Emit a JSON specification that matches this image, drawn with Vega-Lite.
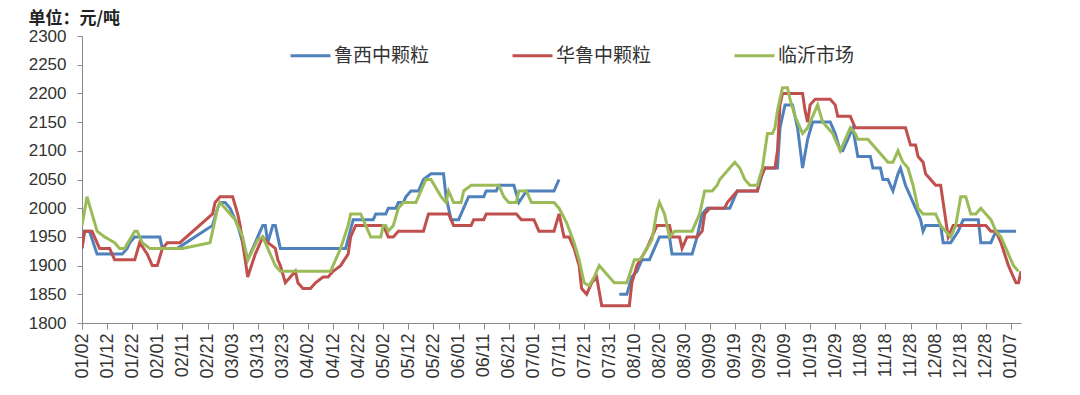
{
  "$schema": "https://vega.github.io/schema/vega-lite/v6.json",
  "autosize": "none",
  "width": 939,
  "height": 287,
  "padding": {"left": 82, "top": 36, "right": 59, "bottom": 72},
  "background": "white",
  "config": {"view": {"stroke": null}},
  "data": {"values": [
    {"s":"鲁西中颗粒","d":"2019-01-02","v":1930},{"s":"鲁西中颗粒","d":"2019-01-03","v":1960},{"s":"鲁西中颗粒","d":"2019-01-05","v":1960},{"s":"鲁西中颗粒","d":"2019-01-08","v":1920},{"s":"鲁西中颗粒","d":"2019-01-18","v":1920},{"s":"鲁西中颗粒","d":"2019-01-20","v":1930},{"s":"鲁西中颗粒","d":"2019-01-21","v":1940},{"s":"鲁西中颗粒","d":"2019-01-23","v":1950},{"s":"鲁西中颗粒","d":"2019-02-02","v":1950},{"s":"鲁西中颗粒","d":"2019-02-03","v":1930},{"s":"鲁西中颗粒","d":"2019-02-09","v":1930},{"s":"鲁西中颗粒","d":"2019-02-23","v":1970},{"s":"鲁西中颗粒","d":"2019-02-25","v":2000},{"s":"鲁西中颗粒","d":"2019-02-26","v":2010},{"s":"鲁西中颗粒","d":"2019-02-28","v":2010},{"s":"鲁西中颗粒","d":"2019-03-02","v":2000},{"s":"鲁西中颗粒","d":"2019-03-05","v":1970},{"s":"鲁西中颗粒","d":"2019-03-09","v":1910},{"s":"鲁西中颗粒","d":"2019-03-13","v":1950},{"s":"鲁西中颗粒","d":"2019-03-15","v":1970},{"s":"鲁西中颗粒","d":"2019-03-16","v":1970},{"s":"鲁西中颗粒","d":"2019-03-17","v":1940},{"s":"鲁西中颗粒","d":"2019-03-19","v":1970},{"s":"鲁西中颗粒","d":"2019-03-20","v":1970},{"s":"鲁西中颗粒","d":"2019-03-22","v":1930},{"s":"鲁西中颗粒","d":"2019-04-17","v":1930},{"s":"鲁西中颗粒","d":"2019-04-20","v":1980},{"s":"鲁西中颗粒","d":"2019-04-28","v":1980},{"s":"鲁西中颗粒","d":"2019-04-29","v":1990},{"s":"鲁西中颗粒","d":"2019-05-03","v":1990},{"s":"鲁西中颗粒","d":"2019-05-04","v":2000},{"s":"鲁西中颗粒","d":"2019-05-07","v":2000},{"s":"鲁西中颗粒","d":"2019-05-08","v":2010},{"s":"鲁西中颗粒","d":"2019-05-10","v":2010},{"s":"鲁西中颗粒","d":"2019-05-11","v":2020},{"s":"鲁西中颗粒","d":"2019-05-13","v":2030},{"s":"鲁西中颗粒","d":"2019-05-16","v":2030},{"s":"鲁西中颗粒","d":"2019-05-18","v":2050},{"s":"鲁西中颗粒","d":"2019-05-21","v":2060},{"s":"鲁西中颗粒","d":"2019-05-26","v":2060},{"s":"鲁西中颗粒","d":"2019-05-27","v":2020},{"s":"鲁西中颗粒","d":"2019-05-29","v":1980},{"s":"鲁西中颗粒","d":"2019-06-01","v":1980},{"s":"鲁西中颗粒","d":"2019-06-03","v":2000},{"s":"鲁西中颗粒","d":"2019-06-05","v":2020},{"s":"鲁西中颗粒","d":"2019-06-11","v":2020},{"s":"鲁西中颗粒","d":"2019-06-12","v":2030},{"s":"鲁西中颗粒","d":"2019-06-16","v":2030},{"s":"鲁西中颗粒","d":"2019-06-17","v":2040},{"s":"鲁西中颗粒","d":"2019-06-23","v":2040},{"s":"鲁西中颗粒","d":"2019-06-25","v":2010},{"s":"鲁西中颗粒","d":"2019-06-28","v":2030},{"s":"鲁西中颗粒","d":"2019-07-09","v":2030},{"s":"鲁西中颗粒","d":"2019-07-11","v":2050},{"s":"鲁西中颗粒","d":"2019-07-21","v":null},{"s":"鲁西中颗粒","d":"2019-08-04","v":1850},{"s":"鲁西中颗粒","d":"2019-08-07","v":1850},{"s":"鲁西中颗粒","d":"2019-08-09","v":1880},{"s":"鲁西中颗粒","d":"2019-08-11","v":1890},{"s":"鲁西中颗粒","d":"2019-08-13","v":1910},{"s":"鲁西中颗粒","d":"2019-08-16","v":1910},{"s":"鲁西中颗粒","d":"2019-08-18","v":1930},{"s":"鲁西中颗粒","d":"2019-08-20","v":1950},{"s":"鲁西中颗粒","d":"2019-08-24","v":1950},{"s":"鲁西中颗粒","d":"2019-08-25","v":1920},{"s":"鲁西中颗粒","d":"2019-09-02","v":1920},{"s":"鲁西中颗粒","d":"2019-09-04","v":1950},{"s":"鲁西中颗粒","d":"2019-09-06","v":1990},{"s":"鲁西中颗粒","d":"2019-09-08","v":2000},{"s":"鲁西中颗粒","d":"2019-09-17","v":2000},{"s":"鲁西中颗粒","d":"2019-09-19","v":2020},{"s":"鲁西中颗粒","d":"2019-09-20","v":2030},{"s":"鲁西中颗粒","d":"2019-09-28","v":2030},{"s":"鲁西中颗粒","d":"2019-09-30","v":2060},{"s":"鲁西中颗粒","d":"2019-10-01","v":2070},{"s":"鲁西中颗粒","d":"2019-10-06","v":2070},{"s":"鲁西中颗粒","d":"2019-10-07","v":2140},{"s":"鲁西中颗粒","d":"2019-10-09","v":2180},{"s":"鲁西中颗粒","d":"2019-10-12","v":2180},{"s":"鲁西中颗粒","d":"2019-10-14","v":2140},{"s":"鲁西中颗粒","d":"2019-10-16","v":2070},{"s":"鲁西中颗粒","d":"2019-10-18","v":2120},{"s":"鲁西中颗粒","d":"2019-10-20","v":2150},{"s":"鲁西中颗粒","d":"2019-10-27","v":2150},{"s":"鲁西中颗粒","d":"2019-10-29","v":2130},{"s":"鲁西中颗粒","d":"2019-10-31","v":2100},{"s":"鲁西中颗粒","d":"2019-11-01","v":2100},{"s":"鲁西中颗粒","d":"2019-11-03","v":2120},{"s":"鲁西中颗粒","d":"2019-11-05","v":2140},{"s":"鲁西中颗粒","d":"2019-11-07","v":2090},{"s":"鲁西中颗粒","d":"2019-11-12","v":2090},{"s":"鲁西中颗粒","d":"2019-11-13","v":2070},{"s":"鲁西中颗粒","d":"2019-11-16","v":2070},{"s":"鲁西中颗粒","d":"2019-11-17","v":2050},{"s":"鲁西中颗粒","d":"2019-11-19","v":2050},{"s":"鲁西中颗粒","d":"2019-11-21","v":2030},{"s":"鲁西中颗粒","d":"2019-11-23","v":2060},{"s":"鲁西中颗粒","d":"2019-11-24","v":2070},{"s":"鲁西中颗粒","d":"2019-11-26","v":2040},{"s":"鲁西中颗粒","d":"2019-11-28","v":2020},{"s":"鲁西中颗粒","d":"2019-11-30","v":2000},{"s":"鲁西中颗粒","d":"2019-12-02","v":1980},{"s":"鲁西中颗粒","d":"2019-12-03","v":1960},{"s":"鲁西中颗粒","d":"2019-12-04","v":1970},{"s":"鲁西中颗粒","d":"2019-12-10","v":1970},{"s":"鲁西中颗粒","d":"2019-12-11","v":1940},{"s":"鲁西中颗粒","d":"2019-12-14","v":1940},{"s":"鲁西中颗粒","d":"2019-12-17","v":1960},{"s":"鲁西中颗粒","d":"2019-12-19","v":1980},{"s":"鲁西中颗粒","d":"2019-12-25","v":1980},{"s":"鲁西中颗粒","d":"2019-12-26","v":1940},{"s":"鲁西中颗粒","d":"2019-12-30","v":1940},{"s":"鲁西中颗粒","d":"2019-12-31","v":1950},{"s":"鲁西中颗粒","d":"2020-01-01","v":1960},{"s":"鲁西中颗粒","d":"2020-01-09","v":1960},

    {"s":"华鲁中颗粒","d":"2019-01-02","v":1930},{"s":"华鲁中颗粒","d":"2019-01-03","v":1960},{"s":"华鲁中颗粒","d":"2019-01-06","v":1960},{"s":"华鲁中颗粒","d":"2019-01-09","v":1930},{"s":"华鲁中颗粒","d":"2019-01-13","v":1930},{"s":"华鲁中颗粒","d":"2019-01-15","v":1910},{"s":"华鲁中颗粒","d":"2019-01-23","v":1910},{"s":"华鲁中颗粒","d":"2019-01-25","v":1940},{"s":"华鲁中颗粒","d":"2019-01-28","v":1920},{"s":"华鲁中颗粒","d":"2019-01-30","v":1900},{"s":"华鲁中颗粒","d":"2019-02-01","v":1900},{"s":"华鲁中颗粒","d":"2019-02-03","v":1930},{"s":"华鲁中颗粒","d":"2019-02-05","v":1940},{"s":"华鲁中颗粒","d":"2019-02-10","v":1940},{"s":"华鲁中颗粒","d":"2019-02-23","v":1990},{"s":"华鲁中颗粒","d":"2019-02-24","v":2010},{"s":"华鲁中颗粒","d":"2019-02-26","v":2020},{"s":"华鲁中颗粒","d":"2019-03-03","v":2020},{"s":"华鲁中颗粒","d":"2019-03-05","v":1990},{"s":"华鲁中颗粒","d":"2019-03-06","v":1970},{"s":"华鲁中颗粒","d":"2019-03-09","v":1880},{"s":"华鲁中颗粒","d":"2019-03-12","v":1920},{"s":"华鲁中颗粒","d":"2019-03-15","v":1950},{"s":"华鲁中颗粒","d":"2019-03-17","v":1940},{"s":"华鲁中颗粒","d":"2019-03-20","v":1930},{"s":"华鲁中颗粒","d":"2019-03-21","v":1910},{"s":"华鲁中颗粒","d":"2019-03-22","v":1900},{"s":"华鲁中颗粒","d":"2019-03-24","v":1870},{"s":"华鲁中颗粒","d":"2019-03-26","v":1880},{"s":"华鲁中颗粒","d":"2019-03-28","v":1890},{"s":"华鲁中颗粒","d":"2019-03-29","v":1870},{"s":"华鲁中颗粒","d":"2019-03-31","v":1860},{"s":"华鲁中颗粒","d":"2019-04-03","v":1860},{"s":"华鲁中颗粒","d":"2019-04-05","v":1870},{"s":"华鲁中颗粒","d":"2019-04-08","v":1880},{"s":"华鲁中颗粒","d":"2019-04-10","v":1880},{"s":"华鲁中颗粒","d":"2019-04-12","v":1890},{"s":"华鲁中颗粒","d":"2019-04-15","v":1900},{"s":"华鲁中颗粒","d":"2019-04-18","v":1920},{"s":"华鲁中颗粒","d":"2019-04-19","v":1950},{"s":"华鲁中颗粒","d":"2019-04-21","v":1970},{"s":"华鲁中颗粒","d":"2019-05-02","v":1970},{"s":"华鲁中颗粒","d":"2019-05-04","v":1950},{"s":"华鲁中颗粒","d":"2019-05-06","v":1950},{"s":"华鲁中颗粒","d":"2019-05-08","v":1960},{"s":"华鲁中颗粒","d":"2019-05-18","v":1960},{"s":"华鲁中颗粒","d":"2019-05-20","v":1990},{"s":"华鲁中颗粒","d":"2019-05-28","v":1990},{"s":"华鲁中颗粒","d":"2019-05-30","v":1970},{"s":"华鲁中颗粒","d":"2019-06-06","v":1970},{"s":"华鲁中颗粒","d":"2019-06-07","v":1980},{"s":"华鲁中颗粒","d":"2019-06-11","v":1980},{"s":"华鲁中颗粒","d":"2019-06-12","v":1990},{"s":"华鲁中颗粒","d":"2019-06-24","v":1990},{"s":"华鲁中颗粒","d":"2019-06-26","v":1980},{"s":"华鲁中颗粒","d":"2019-07-01","v":1980},{"s":"华鲁中颗粒","d":"2019-07-03","v":1960},{"s":"华鲁中颗粒","d":"2019-07-09","v":1960},{"s":"华鲁中颗粒","d":"2019-07-11","v":1990},{"s":"华鲁中颗粒","d":"2019-07-13","v":1950},{"s":"华鲁中颗粒","d":"2019-07-15","v":1950},{"s":"华鲁中颗粒","d":"2019-07-17","v":1930},{"s":"华鲁中颗粒","d":"2019-07-19","v":1900},{"s":"华鲁中颗粒","d":"2019-07-20","v":1860},{"s":"华鲁中颗粒","d":"2019-07-22","v":1850},{"s":"华鲁中颗粒","d":"2019-07-24","v":1870},{"s":"华鲁中颗粒","d":"2019-07-26","v":1880},{"s":"华鲁中颗粒","d":"2019-07-28","v":1830},{"s":"华鲁中颗粒","d":"2019-08-08","v":1830},{"s":"华鲁中颗粒","d":"2019-08-09","v":1870},{"s":"华鲁中颗粒","d":"2019-08-11","v":1900},{"s":"华鲁中颗粒","d":"2019-08-13","v":1915},{"s":"华鲁中颗粒","d":"2019-08-15","v":1930},{"s":"华鲁中颗粒","d":"2019-08-17","v":1950},{"s":"华鲁中颗粒","d":"2019-08-19","v":1970},{"s":"华鲁中颗粒","d":"2019-08-24","v":1970},{"s":"华鲁中颗粒","d":"2019-08-25","v":1950},{"s":"华鲁中颗粒","d":"2019-08-28","v":1950},{"s":"华鲁中颗粒","d":"2019-08-29","v":1930},{"s":"华鲁中颗粒","d":"2019-08-31","v":1950},{"s":"华鲁中颗粒","d":"2019-09-04","v":1950},{"s":"华鲁中颗粒","d":"2019-09-06","v":1960},{"s":"华鲁中颗粒","d":"2019-09-07","v":1990},{"s":"华鲁中颗粒","d":"2019-09-09","v":2000},{"s":"华鲁中颗粒","d":"2019-09-15","v":2000},{"s":"华鲁中颗粒","d":"2019-09-16","v":2010},{"s":"华鲁中颗粒","d":"2019-09-18","v":2020},{"s":"华鲁中颗粒","d":"2019-09-20","v":2030},{"s":"华鲁中颗粒","d":"2019-09-28","v":2030},{"s":"华鲁中颗粒","d":"2019-09-29","v":2050},{"s":"华鲁中颗粒","d":"2019-10-01","v":2070},{"s":"华鲁中颗粒","d":"2019-10-05","v":2070},{"s":"华鲁中颗粒","d":"2019-10-06","v":2100},{"s":"华鲁中颗粒","d":"2019-10-07","v":2180},{"s":"华鲁中颗粒","d":"2019-10-08","v":2200},{"s":"华鲁中颗粒","d":"2019-10-16","v":2200},{"s":"华鲁中颗粒","d":"2019-10-17","v":2170},{"s":"华鲁中颗粒","d":"2019-10-18","v":2150},{"s":"华鲁中颗粒","d":"2019-10-19","v":2180},{"s":"华鲁中颗粒","d":"2019-10-21","v":2190},{"s":"华鲁中颗粒","d":"2019-10-27","v":2190},{"s":"华鲁中颗粒","d":"2019-10-29","v":2180},{"s":"华鲁中颗粒","d":"2019-10-30","v":2160},{"s":"华鲁中颗粒","d":"2019-11-04","v":2160},{"s":"华鲁中颗粒","d":"2019-11-06","v":2140},{"s":"华鲁中颗粒","d":"2019-11-26","v":2140},{"s":"华鲁中颗粒","d":"2019-11-28","v":2110},{"s":"华鲁中颗粒","d":"2019-11-30","v":2110},{"s":"华鲁中颗粒","d":"2019-12-01","v":2090},{"s":"华鲁中颗粒","d":"2019-12-03","v":2080},{"s":"华鲁中颗粒","d":"2019-12-04","v":2060},{"s":"华鲁中颗粒","d":"2019-12-06","v":2050},{"s":"华鲁中颗粒","d":"2019-12-08","v":2040},{"s":"华鲁中颗粒","d":"2019-12-10","v":2040},{"s":"华鲁中颗粒","d":"2019-12-13","v":1950},{"s":"华鲁中颗粒","d":"2019-12-15","v":1970},{"s":"华鲁中颗粒","d":"2019-12-28","v":1970},{"s":"华鲁中颗粒","d":"2019-12-30","v":1960},{"s":"华鲁中颗粒","d":"2020-01-01","v":1960},{"s":"华鲁中颗粒","d":"2020-01-03","v":1940},{"s":"华鲁中颗粒","d":"2020-01-06","v":1900},{"s":"华鲁中颗粒","d":"2020-01-08","v":1880},{"s":"华鲁中颗粒","d":"2020-01-09","v":1870},{"s":"华鲁中颗粒","d":"2020-01-10","v":1870},{"s":"华鲁中颗粒","d":"2020-01-11","v":1890},

    {"s":"临沂市场","d":"2019-01-02","v":1970},{"s":"临沂市场","d":"2019-01-04","v":2020},{"s":"临沂市场","d":"2019-01-06","v":1990},{"s":"临沂市场","d":"2019-01-08","v":1960},{"s":"临沂市场","d":"2019-01-11","v":1950},{"s":"临沂市场","d":"2019-01-13","v":1945},{"s":"临沂市场","d":"2019-01-15","v":1940},{"s":"临沂市场","d":"2019-01-17","v":1930},{"s":"临沂市场","d":"2019-01-19","v":1930},{"s":"临沂市场","d":"2019-01-21","v":1945},{"s":"临沂市场","d":"2019-01-23","v":1960},{"s":"临沂市场","d":"2019-01-24","v":1960},{"s":"临沂市场","d":"2019-01-26","v":1940},{"s":"临沂市场","d":"2019-01-29","v":1930},{"s":"临沂市场","d":"2019-02-11","v":1930},{"s":"临沂市场","d":"2019-02-22","v":1940},{"s":"临沂市场","d":"2019-02-23","v":1960},{"s":"临沂市场","d":"2019-02-25","v":2000},{"s":"临沂市场","d":"2019-02-26","v":2010},{"s":"临沂市场","d":"2019-02-28","v":2000},{"s":"临沂市场","d":"2019-03-02","v":1990},{"s":"临沂市场","d":"2019-03-04","v":1980},{"s":"临沂市场","d":"2019-03-05","v":1970},{"s":"临沂市场","d":"2019-03-07","v":1950},{"s":"临沂市场","d":"2019-03-09","v":1910},{"s":"临沂市场","d":"2019-03-13","v":1945},{"s":"临沂市场","d":"2019-03-15","v":1950},{"s":"临沂市场","d":"2019-03-17","v":1930},{"s":"临沂市场","d":"2019-03-18","v":1920},{"s":"临沂市场","d":"2019-03-20","v":1900},{"s":"临沂市场","d":"2019-03-22","v":1890},{"s":"临沂市场","d":"2019-04-11","v":1890},{"s":"临沂市场","d":"2019-04-13","v":1910},{"s":"临沂市场","d":"2019-04-15","v":1930},{"s":"临沂市场","d":"2019-04-18","v":1970},{"s":"临沂市场","d":"2019-04-19","v":1990},{"s":"临沂市场","d":"2019-04-23","v":1990},{"s":"临沂市场","d":"2019-04-25","v":1970},{"s":"临沂市场","d":"2019-04-27","v":1950},{"s":"临沂市场","d":"2019-05-01","v":1950},{"s":"临沂市场","d":"2019-05-02","v":1970},{"s":"临沂市场","d":"2019-05-03","v":1970},{"s":"临沂市场","d":"2019-05-04","v":1960},{"s":"临沂市场","d":"2019-05-06","v":1970},{"s":"临沂市场","d":"2019-05-08","v":2000},{"s":"临沂市场","d":"2019-05-10","v":2010},{"s":"临沂市场","d":"2019-05-15","v":2010},{"s":"临沂市场","d":"2019-05-17","v":2030},{"s":"临沂市场","d":"2019-05-19","v":2050},{"s":"临沂市场","d":"2019-05-21","v":2050},{"s":"临沂市场","d":"2019-05-23","v":2035},{"s":"临沂市场","d":"2019-05-25","v":2020},{"s":"临沂市场","d":"2019-05-27","v":2010},{"s":"临沂市场","d":"2019-05-28","v":2030},{"s":"临沂市场","d":"2019-05-30","v":2010},{"s":"临沂市场","d":"2019-06-02","v":2010},{"s":"临沂市场","d":"2019-06-03","v":2030},{"s":"临沂市场","d":"2019-06-06","v":2040},{"s":"临沂市场","d":"2019-06-17","v":2040},{"s":"临沂市场","d":"2019-06-19","v":2020},{"s":"临沂市场","d":"2019-06-21","v":2010},{"s":"临沂市场","d":"2019-06-24","v":2010},{"s":"临沂市场","d":"2019-06-25","v":2030},{"s":"临沂市场","d":"2019-06-28","v":2030},{"s":"临沂市场","d":"2019-06-30","v":2010},{"s":"临沂市场","d":"2019-07-09","v":2010},{"s":"临沂市场","d":"2019-07-11","v":2000},{"s":"临沂市场","d":"2019-07-14","v":1975},{"s":"临沂市场","d":"2019-07-17","v":1940},{"s":"临沂市场","d":"2019-07-19","v":1910},{"s":"临沂市场","d":"2019-07-21","v":1870},{"s":"临沂市场","d":"2019-07-23","v":1865},{"s":"临沂市场","d":"2019-07-25","v":1880},{"s":"临沂市场","d":"2019-07-27","v":1900},{"s":"临沂市场","d":"2019-07-29","v":1890},{"s":"临沂市场","d":"2019-07-31","v":1880},{"s":"临沂市场","d":"2019-08-02","v":1870},{"s":"临沂市场","d":"2019-08-07","v":1870},{"s":"临沂市场","d":"2019-08-10","v":1910},{"s":"临沂市场","d":"2019-08-12","v":1910},{"s":"临沂市场","d":"2019-08-13","v":1915},{"s":"临沂市场","d":"2019-08-15","v":1930},{"s":"临沂市场","d":"2019-08-17","v":1945},{"s":"临沂市场","d":"2019-08-19","v":1995},{"s":"临沂市场","d":"2019-08-20","v":2010},{"s":"临沂市场","d":"2019-08-22","v":1990},{"s":"临沂市场","d":"2019-08-24","v":1950},{"s":"临沂市场","d":"2019-08-26","v":1960},{"s":"临沂市场","d":"2019-09-02","v":1960},{"s":"临沂市场","d":"2019-09-04","v":1980},{"s":"临沂市场","d":"2019-09-05","v":1990},{"s":"临沂市场","d":"2019-09-07","v":2030},{"s":"临沂市场","d":"2019-09-10","v":2030},{"s":"临沂市场","d":"2019-09-12","v":2040},{"s":"临沂市场","d":"2019-09-13","v":2050},{"s":"临沂市场","d":"2019-09-15","v":2060},{"s":"临沂市场","d":"2019-09-17","v":2070},{"s":"临沂市场","d":"2019-09-19","v":2080},{"s":"临沂市场","d":"2019-09-21","v":2070},{"s":"临沂市场","d":"2019-09-23","v":2050},{"s":"临沂市场","d":"2019-09-25","v":2040},{"s":"临沂市场","d":"2019-09-28","v":2040},{"s":"临沂市场","d":"2019-09-30","v":2070},{"s":"临沂市场","d":"2019-10-02","v":2130},{"s":"临沂市场","d":"2019-10-04","v":2130},{"s":"临沂市场","d":"2019-10-05","v":2140},{"s":"临沂市场","d":"2019-10-06","v":2170},{"s":"临沂市场","d":"2019-10-08","v":2210},{"s":"临沂市场","d":"2019-10-10","v":2210},{"s":"临沂市场","d":"2019-10-11","v":2190},{"s":"临沂市场","d":"2019-10-13","v":2160},{"s":"临沂市场","d":"2019-10-16","v":2130},{"s":"临沂市场","d":"2019-10-18","v":2140},{"s":"临沂市场","d":"2019-10-20","v":2160},{"s":"临沂市场","d":"2019-10-22","v":2180},{"s":"临沂市场","d":"2019-10-24","v":2150},{"s":"临沂市场","d":"2019-10-26","v":2140},{"s":"临沂市场","d":"2019-10-28","v":2130},{"s":"临沂市场","d":"2019-10-29","v":2120},{"s":"临沂市场","d":"2019-10-31","v":2100},{"s":"临沂市场","d":"2019-11-02","v":2120},{"s":"临沂市场","d":"2019-11-04","v":2140},{"s":"临沂市场","d":"2019-11-06","v":2130},{"s":"临沂市场","d":"2019-11-07","v":2120},{"s":"临沂市场","d":"2019-11-11","v":2120},{"s":"临沂市场","d":"2019-11-13","v":2110},{"s":"临沂市场","d":"2019-11-15","v":2100},{"s":"临沂市场","d":"2019-11-17","v":2090},{"s":"临沂市场","d":"2019-11-19","v":2080},{"s":"临沂市场","d":"2019-11-21","v":2080},{"s":"临沂市场","d":"2019-11-23","v":2100},{"s":"临沂市场","d":"2019-11-25","v":2080},{"s":"临沂市场","d":"2019-11-27","v":2070},{"s":"临沂市场","d":"2019-11-29","v":2040},{"s":"临沂市场","d":"2019-11-30","v":2020},{"s":"临沂市场","d":"2019-12-01","v":2000},{"s":"临沂市场","d":"2019-12-03","v":1990},{"s":"临沂市场","d":"2019-12-08","v":1990},{"s":"临沂市场","d":"2019-12-10","v":1970},{"s":"临沂市场","d":"2019-12-12","v":1960},{"s":"临沂市场","d":"2019-12-14","v":1950},{"s":"临沂市场","d":"2019-12-16","v":1970},{"s":"临沂市场","d":"2019-12-18","v":2020},{"s":"临沂市场","d":"2019-12-20","v":2020},{"s":"临沂市场","d":"2019-12-22","v":1990},{"s":"临沂市场","d":"2019-12-24","v":1990},{"s":"临沂市场","d":"2019-12-26","v":2000},{"s":"临沂市场","d":"2019-12-28","v":1990},{"s":"临沂市场","d":"2019-12-30","v":1980},{"s":"临沂市场","d":"2020-01-01","v":1960},{"s":"临沂市场","d":"2020-01-03","v":1950},{"s":"临沂市场","d":"2020-01-05","v":1930},{"s":"临沂市场","d":"2020-01-08","v":1900},{"s":"临沂市场","d":"2020-01-10","v":1890}
  ]},
  "mark": {"type": "line", "strokeWidth": 3, "invalid": "break-paths-filter-domains", "clip": true},
  "encoding": {
    "x": {
      "field": "d", "type": "temporal",
      "scale": {"type": "utc", "domain": [{"year": 2019, "month": 1, "date": 2, "utc": true}, {"year": 2020, "month": 1, "date": 11, "utc": true}]},
      "axis": {
        "title": null, "labelExpr": "utcFormat(datum.value, '%m/%d')", "labelAngle": -90,
        "values": [
          {"year":2019,"month":1,"date":2,"utc":true},{"year":2019,"month":1,"date":12,"utc":true},{"year":2019,"month":1,"date":22,"utc":true},{"year":2019,"month":2,"date":1,"utc":true},{"year":2019,"month":2,"date":11,"utc":true},{"year":2019,"month":2,"date":21,"utc":true},{"year":2019,"month":3,"date":3,"utc":true},{"year":2019,"month":3,"date":13,"utc":true},{"year":2019,"month":3,"date":23,"utc":true},{"year":2019,"month":4,"date":2,"utc":true},{"year":2019,"month":4,"date":12,"utc":true},{"year":2019,"month":4,"date":22,"utc":true},{"year":2019,"month":5,"date":2,"utc":true},{"year":2019,"month":5,"date":12,"utc":true},{"year":2019,"month":5,"date":22,"utc":true},{"year":2019,"month":6,"date":1,"utc":true},{"year":2019,"month":6,"date":11,"utc":true},{"year":2019,"month":6,"date":21,"utc":true},{"year":2019,"month":7,"date":1,"utc":true},{"year":2019,"month":7,"date":11,"utc":true},{"year":2019,"month":7,"date":21,"utc":true},{"year":2019,"month":7,"date":31,"utc":true},{"year":2019,"month":8,"date":10,"utc":true},{"year":2019,"month":8,"date":20,"utc":true},{"year":2019,"month":8,"date":30,"utc":true},{"year":2019,"month":9,"date":9,"utc":true},{"year":2019,"month":9,"date":19,"utc":true},{"year":2019,"month":9,"date":29,"utc":true},{"year":2019,"month":10,"date":9,"utc":true},{"year":2019,"month":10,"date":19,"utc":true},{"year":2019,"month":10,"date":29,"utc":true},{"year":2019,"month":11,"date":8,"utc":true},{"year":2019,"month":11,"date":18,"utc":true},{"year":2019,"month":11,"date":28,"utc":true},{"year":2019,"month":12,"date":8,"utc":true},{"year":2019,"month":12,"date":18,"utc":true},{"year":2019,"month":12,"date":28,"utc":true},{"year":2020,"month":1,"date":7,"utc":true}
        ],
        "grid": false, "domainColor": "#898989", "tickColor": "#898989", "tickSize": 6,
        "labelFont": "Liberation Sans", "labelFontSize": 18, "labelColor": "#333333", "labelPadding": 4,
        "labelOverlap": false, "labelFlush": false
      }
    },
    "y": {
      "field": "v", "type": "quantitative",
      "scale": {"domain": [1800, 2300], "zero": false, "nice": false},
      "axis": {
        "title": "单位：元/吨", "titleAngle": 0, "titleAlign": "left", "titleBaseline": "middle",
        "titleX": -54, "titleY": -18, "titleFont": "Noto Sans CJK SC", "titleFontSize": 17, "titleFontWeight": "bold", "titleColor": "#222222",
        "values": [1800, 1850, 1900, 1950, 2000, 2050, 2100, 2150, 2200, 2250, 2300],
        "format": "d",
        "grid": false, "domainColor": "#898989", "tickColor": "#898989", "tickSize": 5,
        "labelFont": "Liberation Sans", "labelFontSize": 17, "labelColor": "#333333", "labelPadding": 11,
        "labelOverlap": false, "labelFlush": false
      }
    },
    "color": {
      "field": "s", "type": "nominal",
      "scale": {"domain": ["鲁西中颗粒", "华鲁中颗粒", "临沂市场"], "range": ["#4F81BD", "#C0504D", "#9BBB59"]},
      "legend": {
        "title": null, "orient": "none", "direction": "horizontal", "legendX": 207, "legendY": -2,
        "symbolType": "stroke", "symbolSize": 1600, "symbolStrokeWidth": 3, "labelOffset": 2,
        "columnPadding": 76, "labelFont": "Noto Sans CJK SC", "labelFontSize": 19, "labelColor": "#333333"
      }
    }
  }
}
